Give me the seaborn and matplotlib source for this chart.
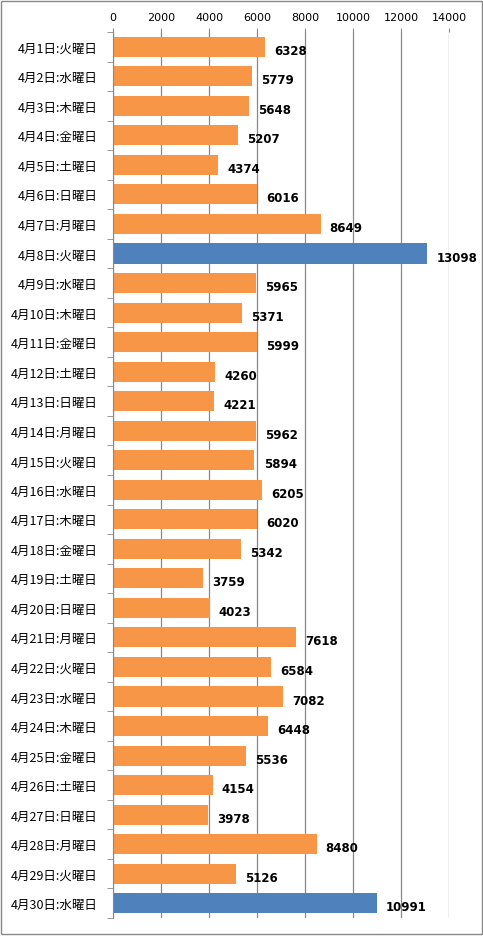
import numpy as np
import pandas as pd
import matplotlib
matplotlib.use("Agg")
import matplotlib.pyplot as plt
import seaborn as sns

weekdays = ["火", "水", "木", "金", "土", "日", "月"]
days = list(range(1, 31))
values = [6328, 5779, 5648, 5207, 4374, 6016, 8649, 13098, 5965, 5371,
          5999, 4260, 4221, 5962, 5894, 6205, 6020, 5342, 3759, 4023,
          7618, 6584, 7082, 6448, 5536, 4154, 3978, 8480, 5126, 10991]
highlight = [8, 30]

labels = [f"4月{d}日:{weekdays[(d - 1) % 7]}曜日" for d in days]
df = pd.DataFrame({"label": labels, "value": values})
df["kind"] = ["hi" if d in highlight else "normal" for d in days]

sns.set_style("white")
plt.rcParams['font.family'] = ['Noto Sans CJK JP', 'DejaVu Sans']
plt.rcParams['text.color'] = 'black'
plt.rcParams['xtick.color'] = 'black'
plt.rcParams['ytick.color'] = 'black'

fig = plt.figure(figsize=(4.83, 9.37), dpi=100)
ax = fig.add_axes([113 / 483, 1 - 919 / 937, (449 - 113) / 483, (919 - 33) / 937])

sns.barplot(data=df, y="label", x="value", hue="kind", orient="h",
            palette={"normal": "#F79646", "hi": "#4F81BD"}, width=0.68,
            dodge=False, legend=False, saturation=1, linewidth=0, ax=ax)

for i, v in enumerate(values):
    ax.text(v + 380, i + 0.12, str(v), va="center", ha="left",
            fontsize=8.5, fontweight="bold", family=['DejaVu Sans'])

ax.set_xlim(0, 14000)
ax.set_ylim(29.5, -0.5)
ax.set_xticks(np.arange(0, 14001, 2000))
ax.xaxis.tick_top()
ax.tick_params(axis="x", length=3, color="#888888", labelsize=8, pad=4)
ax.set_xticklabels([str(t) for t in range(0, 14001, 2000)], family=['DejaVu Sans'])
ax.grid(axis="x", color="#888888", linewidth=0.9)
ax.set_axisbelow(True)
ax.set_yticks(np.arange(30))
ax.set_yticks(np.arange(-0.5, 30, 1), minor=True)
ax.tick_params(axis="y", which="major", length=0, labelsize=9, pad=11)
ax.tick_params(axis="y", which="minor", length=4, color="#888888", left=True)
ax.set_xlabel("")
ax.set_ylabel("")
for s in ["top", "right", "bottom"]:
    ax.spines[s].set_visible(False)
ax.spines["left"].set_color("#888888")

fig.patches.append(plt.Rectangle((0.002, 0.002), 0.996, 0.996, transform=fig.transFigure,
                                 fill=False, edgecolor="#888888", linewidth=1))

fig.savefig("out.png", dpi=100)
